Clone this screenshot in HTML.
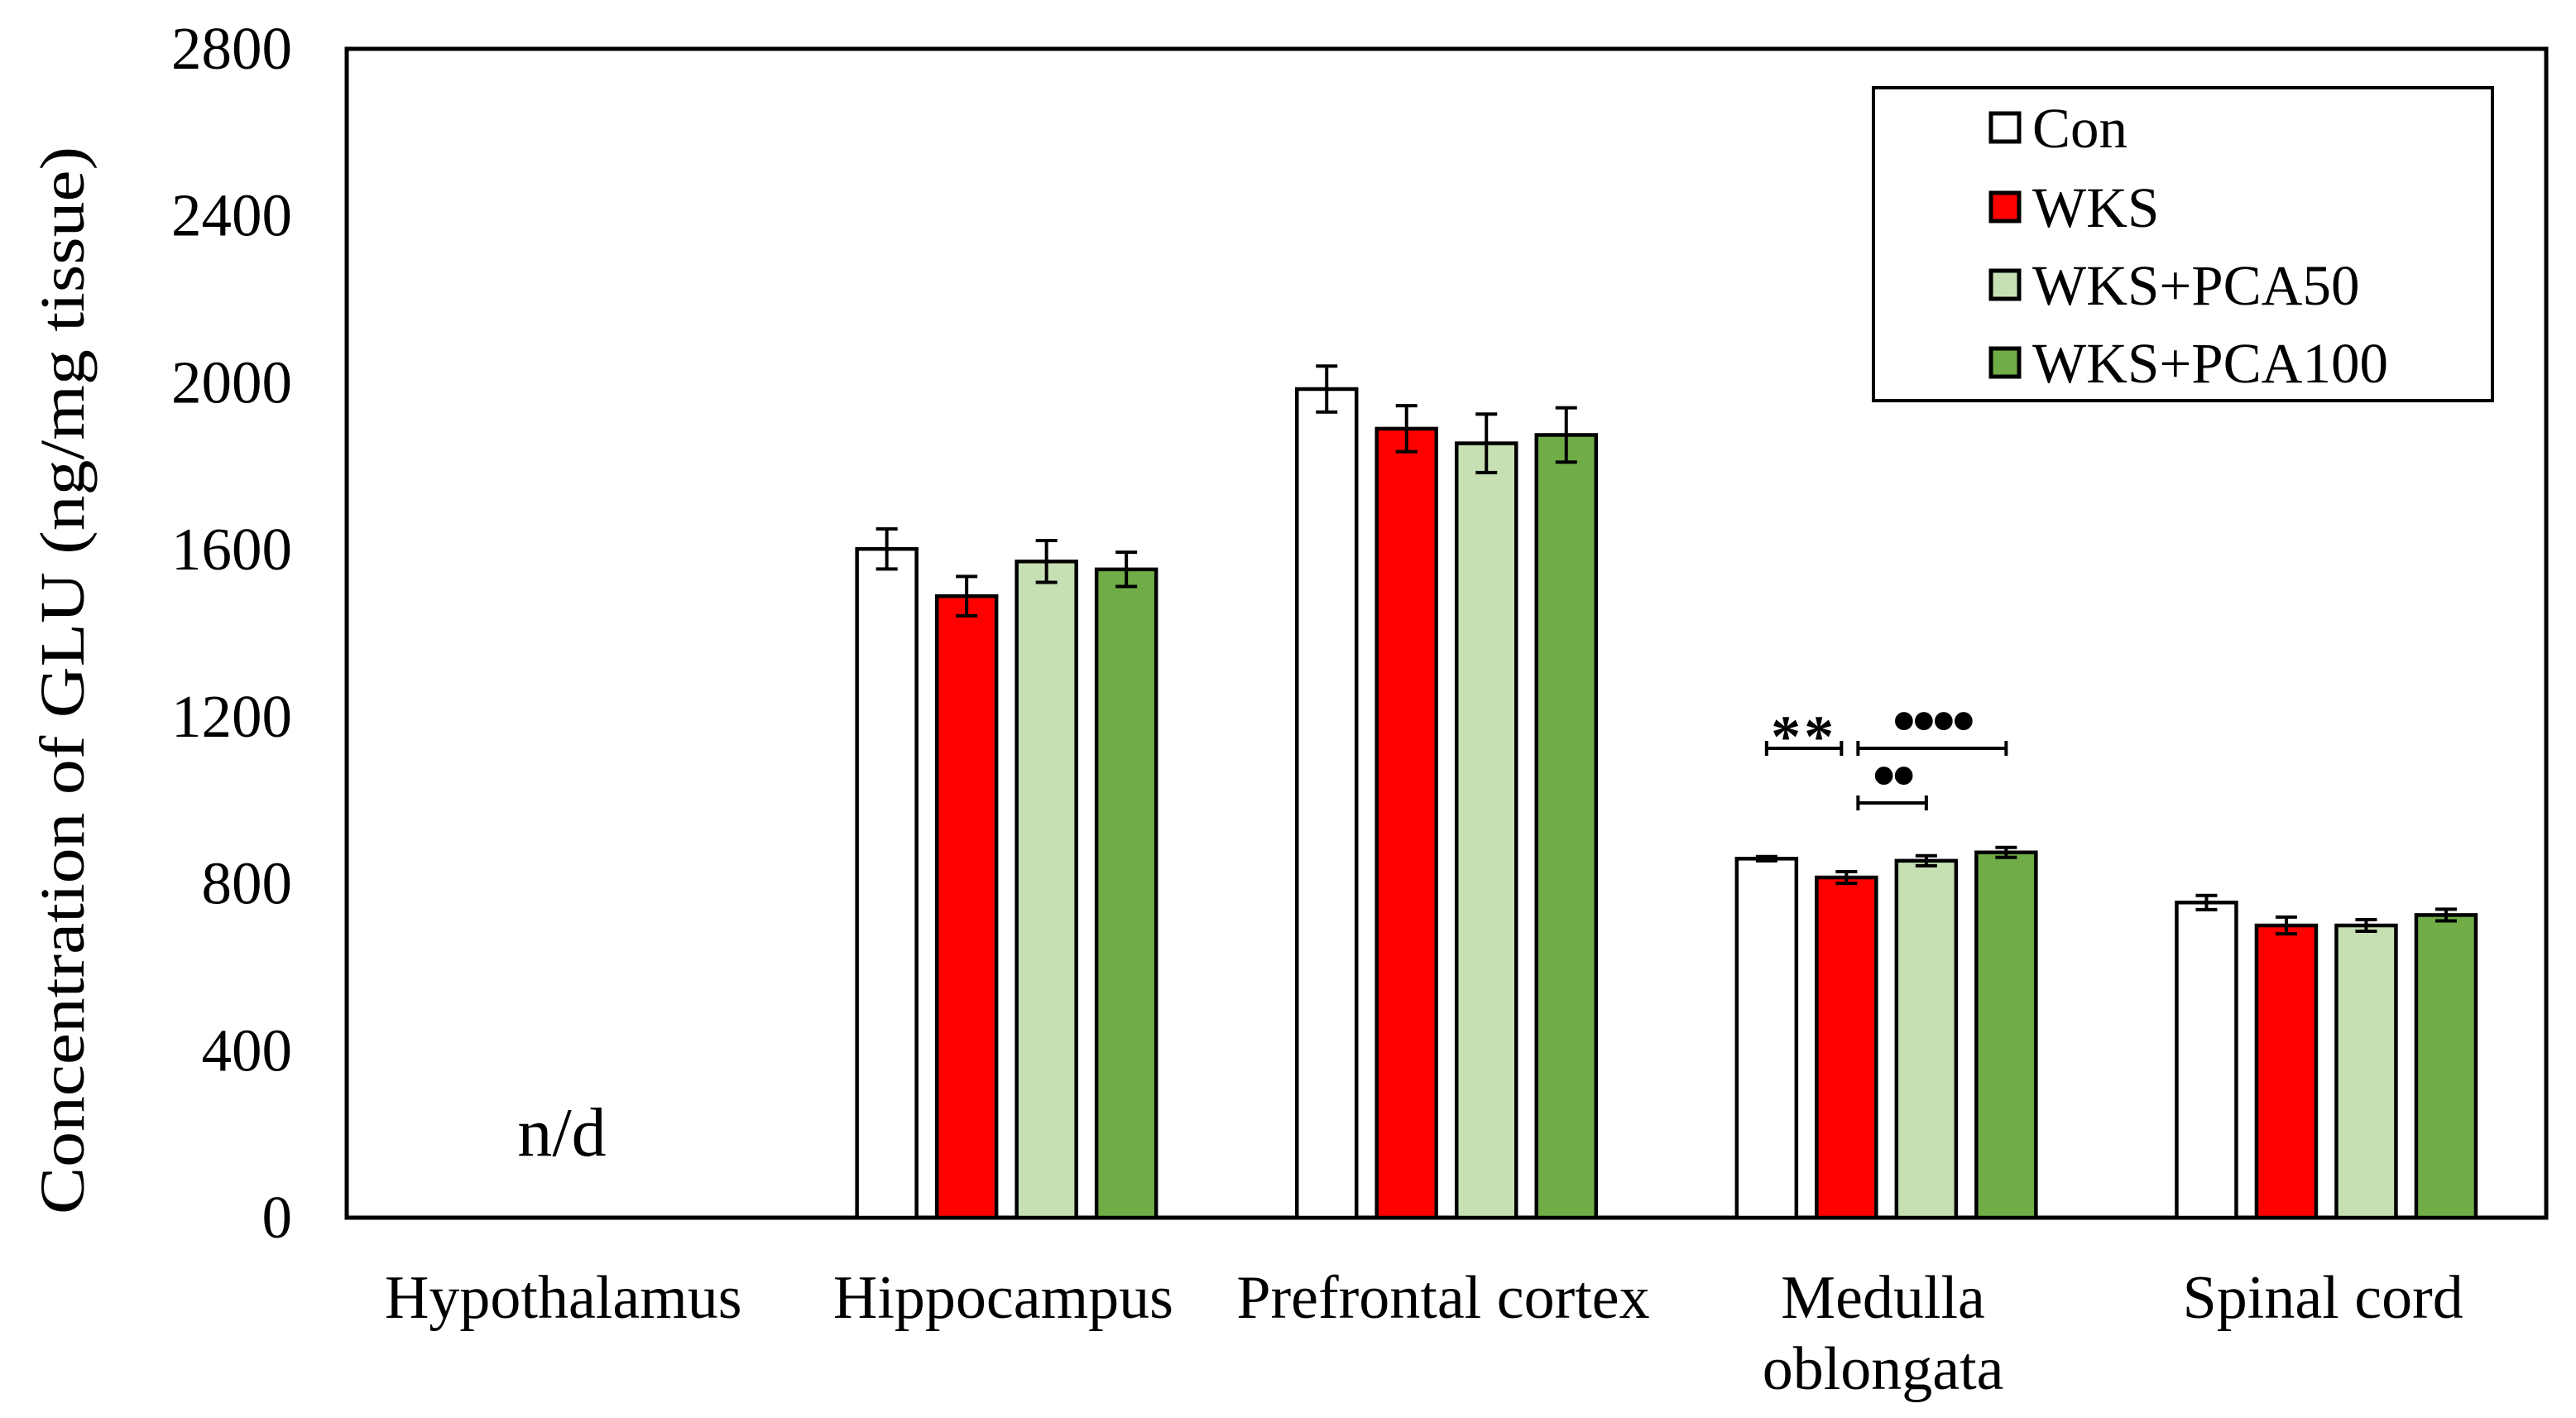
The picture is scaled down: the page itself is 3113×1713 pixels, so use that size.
<!DOCTYPE html>
<html><head><meta charset="utf-8"><style>
html,body{margin:0;padding:0;background:#fff}
svg{display:block}
text{font-family:"Liberation Serif",serif;fill:#000}
</style></head><body>
<svg id="chart" width="3113" height="1713" viewBox="0 0 3113 1713" xmlns="http://www.w3.org/2000/svg">
<g id="axes"></g>
<g id="bars"></g>
<g id="sig"></g>
<text transform="translate(101,822) rotate(-90)" text-anchor="middle" font-size="76" textLength="1290" lengthAdjust="spacingAndGlyphs">Concentration of GLU (ng/mg tissue)</text>
<text x="679" y="1396" text-anchor="middle" font-size="84">n/d</text>
<g>
<rect x="2264" y="106" width="748" height="378" fill="#fff" stroke="#000" stroke-width="4"/>
<g id="legend-entries"></g>
</g>
</svg>
<script>
const categories = ["Hypothalamus","Hippocampus","Prefrontal cortex","Medulla|oblongata","Spinal cord"];
const seriesNames = ["Con","WKS","WKS+PCA50","WKS+PCA100"];
const conVals = [null,1602,1985,860,755];
const wksVals = [null,1489,1890,815,700];
const pca50Vals = [null,1572,1855,855,700];
const pca100Vals = [null,1553,1875,875,725];
const conErr = [null,48,55,5,17];
const wksErr = [null,47,55,14,20];
const pca50Err = [null,50,70,12,14];
const pca100Err = [null,41,65,12,14];
const yTicks = [0,400,800,1200,1600,2000,2400,2800];
const colors = ["#ffffff","#ff0000","#c6e0b4","#70ad47"];

const NS="http://www.w3.org/2000/svg";
const L=419,R=3077,T=59,B=1471,YMAX=2800;
const y=v=>B-(v/YMAX)*(B-T);
const catW=(R-L)/categories.length;
const cx=i=>L+catW*(i+0.5);
const barW=72,pitch=96.5;
const bx=(i,s)=>cx(i)+(s-1.5)*pitch-barW/2;
function mk(tag,attrs,parent){const e=document.createElementNS(NS,tag);for(const k in attrs)e.setAttribute(k,attrs[k]);parent.appendChild(e);return e;}
const axes=document.getElementById('axes'),bars=document.getElementById('bars');

yTicks.forEach(t=>{
  const e=mk('text',{x:353,y:y(t)+24,'text-anchor':'end','font-size':73},axes);
  e.textContent=t;
  
  
});
categories.forEach((c,i)=>{
  const parts=c.split('|');
  parts.forEach((p,j)=>{
    const e=mk('text',{x:cx(i)-4,y:1592+j*86,'text-anchor':'middle','font-size':74},axes);
    e.textContent=p;
    
    
  });
});
const series=[conVals,wksVals,pca50Vals,pca100Vals];
const errs=[conErr,wksErr,pca50Err,pca100Err];
series.forEach((vals,s)=>{
  vals.forEach((v,i)=>{
    if(v==null)return;
    const r=mk('rect',{x:bx(i,s),y:y(v),width:barW,height:B-y(v),fill:colors[s],stroke:'#000','stroke-width':4.5},bars);
    
    
    const m=bx(i,s)+barW/2,e=errs[s][i];
    const g=mk('path',{d:`M${m},${y(v+e)}V${y(v-e)}M${m-13},${y(v+e)}H${m+13}M${m-13},${y(v-e)}H${m+13}`,stroke:'#000','stroke-width':4,fill:'none'},bars);
    
    
  });
});
const f=mk('path',{d:`M${L},${T}H${R}V${B}H${L}Z`,fill:'none',stroke:'#000','stroke-width':5},axes);



const sig=document.getElementById('sig');
const med=3;
const brackets=[[0,1,904,"**"],[1,3,904,"••••"],[1,2,970,"••"]];
brackets.forEach(b=>{
  const x1=bx(med,b[0])+barW/2+(b[0]==1?14:0),x2=bx(med,b[1])+barW/2-(b[1]==1?6:0);
  const p=mk('path',{d:`M${x1},${b[2]}H${x2}M${x1},${b[2]-9}V${b[2]+9}M${x2},${b[2]-9}V${b[2]+9}`,stroke:'#000','stroke-width':4,fill:'none'},sig);
  
  
  const isStar=b[3]=="**";
  const t=mk('text',{x:(x1+x2)/2,y:b[2]+(isStar?10:-6),'text-anchor':'middle','font-size':isStar?72:80,'font-weight':'bold','letter-spacing':isStar?4:-4},sig);
  t.textContent=b[3];
  
  
});

const le=document.getElementById('legend-entries');
const ly=[154,250,344,438];
seriesNames.forEach((n,s)=>{
  const r=mk('rect',{x:2406,y:ly[s]-17,width:34,height:34,fill:colors[s],stroke:'#000','stroke-width':5},le);
  
  
  const t=mk('text',{x:2456,y:ly[s]+24,'font-size':69},le);
  t.textContent=n;
  
  
});
</script>
</body></html>
